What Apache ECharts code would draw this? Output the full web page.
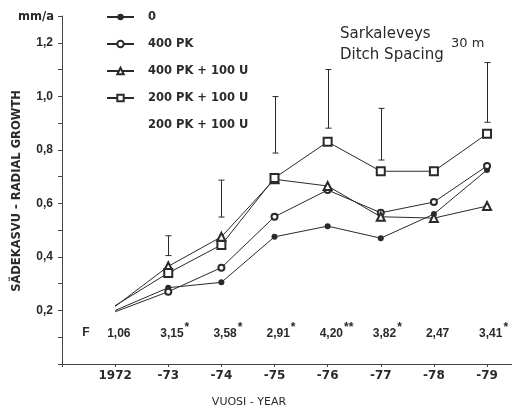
<!DOCTYPE html>
<html>
<head>
<meta charset="utf-8">
<script src="https://cdn.jsdelivr.net/npm/echarts@6/dist/echarts.min.js"></script>
<style>html,body{margin:0;padding:0;background:#fff;}#c{width:512px;height:411px;}</style>
</head>
<body>
<div id="c"></div>
<script>
// ---- data ----
const years = [1972, 1973, 1974, 1975, 1976, 1977, 1978, 1979];
const xTickLabels = ['1972', '-73', '-74', '-75', '-76', '-77', '-78', '-79'];
const seriesNames = ['0', '400 PK', '400 PK + 100 U', '200 PK + 100 U'];
const s0 = [0.20, 0.285, 0.305, 0.475, 0.515, 0.47, 0.56, 0.725];
const s400pk = [0.195, 0.27, 0.36, 0.55, 0.65, 0.565, 0.605, 0.74];
const s400pk100u = [0.215, 0.365, 0.475, 0.69, 0.665, 0.55, 0.545, 0.59];
const s200pk100u = [0.218, 0.34, 0.445, 0.695, 0.83, 0.72, 0.72, 0.86];
const errYears = [1973, 1974, 1975, 1976, 1977, 1979];
const errLow = [0.405, 0.549, 0.788, 0.881, 0.762, 0.903];
const errHigh = [0.479, 0.687, 0.999, 1.10, 0.955, 1.126];
const fValues = ['1,06', '3,15', '3,58', '2,91', '4,20', '3,82', '2,47', '3,41'];
const fStars = ['', '*', '*', '*', '**', '*', '', '*'];
const fRowLevel = 0.115;
const errLegendName = '200 PK + 100 U ';

const ink = '#2a2a2a';
const chart = echarts.init(document.getElementById('c'));

function lineData(vals) {
  return years.map((y, i) => i === 0 ? { value: [y, vals[i]], symbol: 'none' } : [y, vals[i]]);
}
function lineSeries(name, vals, symbol, size) {
  return {
    name: name, type: 'line', data: lineData(vals), symbol: symbol, symbolSize: size,
    lineStyle: { color: ink, width: 1 }, itemStyle: { color: ink, borderWidth: 1 },
    emphasis: { disabled: true }, animation: false, z: 3
  };
}

const measureCtx = document.createElement('canvas').getContext('2d');
const fFont = 'bold 12px "Liberation Sans"';
measureCtx.font = fFont;

const option = {
  backgroundColor: '#fff',
  animation: false,
  grid: { left: 62, right: 0, top: 16, bottom: 47 },
  title: [
    { text: 'Sarkaleveys\nDitch Spacing', left: 335, top: 19,
      textStyle: { fontFamily: 'DejaVu Sans', fontWeight: 'normal', fontSize: 15, color: ink, lineHeight: 21 } },
    { text: '30 m', left: 446, top: 32,
      textStyle: { fontFamily: 'DejaVu Sans', fontWeight: 'normal', fontSize: 13, color: ink } }
  ],
  legend: {
    orient: 'vertical', left: 101, top: 6,
    itemWidth: 27, itemHeight: 8, itemGap: 15,
    selectedMode: false,
    textStyle: { fontFamily: 'DejaVu Sans', fontWeight: 'bold', fontSize: 11.5, color: ink, lineHeight: 12, padding: [0, 0, 0, 9] },
    data: seriesNames.concat([{ name: errLegendName, icon: 'none' }])
  },
  graphic: [
    { type: 'text', x: 17, y: 191, rotation: Math.PI / 2,
      style: { text: 'SÄDEKASVU - RADIAL GROWTH', font: 'bold 11.5px "DejaVu Sans"', fill: ink, align: 'center', verticalAlign: 'middle' } },
    { type: 'text', x: 86, y: 333,
      style: { text: 'F', font: fFont, fill: ink, align: 'center', verticalAlign: 'middle' } },
    { type: 'text', x: 54, y: 17,
      style: { text: 'mm/a', font: 'bold 11.5px "DejaVu Sans"', fill: ink, align: 'right', verticalAlign: 'middle' } },
    { type: 'text', x: 249, y: 402,
      style: { text: 'VUOSI - YEAR', font: '11px "DejaVu Sans"', fill: ink, align: 'center', verticalAlign: 'middle' } }
  ],
  xAxis: {
    type: 'value', min: 1971, max: 1979.47, interval: 1,
    axisLine: { lineStyle: { color: '#444', width: 1 } },
    axisTick: { show: true, length: 3, lineStyle: { color: '#444' } },
    splitLine: { show: false },
    axisLabel: {
      margin: 6, fontFamily: 'DejaVu Sans', fontWeight: 'bold', fontSize: 12, color: ink,
      showMaxLabel: false,
      formatter: v => { const i = years.indexOf(v); return i < 0 ? '' : xTickLabels[i]; }
    }
  },
  yAxis: {
    type: 'value', min: 0, max: 1.3, interval: 0.2,
    axisLine: { show: true, lineStyle: { color: '#444', width: 1 } },
    axisTick: { show: true, length: 4, lineStyle: { color: '#444' } },
    minorTick: { show: true, splitNumber: 2, length: 4, lineStyle: { color: '#444' } },
    splitLine: { show: false },
    axisLabel: {
      margin: 9, fontFamily: 'Liberation Sans', fontWeight: 'bold', fontSize: 12, color: ink,
      showMaxLabel: false,
      formatter: v => (v === 0 || v > 1.25) ? '' : v.toFixed(1).replace('.', ',')
    }
  },
  series: [
    lineSeries(seriesNames[0], s0, 'circle', 6),
    lineSeries(seriesNames[1], s400pk, 'emptyCircle', 6),
    lineSeries(seriesNames[2], s400pk100u, 'emptyTriangle', 8),
    lineSeries(seriesNames[3], s200pk100u, 'emptyRect', 8),
    {
      name: errLegendName, type: 'custom', animation: false, z: 2,
      itemStyle: { color: ink },
      data: errYears.map((y, i) => [y, errLow[i], errHigh[i]]),
      renderItem: function (params, api) {
        const lo = api.coord([api.value(0), api.value(1)]);
        const hi = api.coord([api.value(0), api.value(2)]);
        const x = Math.round(lo[0]) + 0.5;
        const cap = 3;
        const st = { stroke: ink, lineWidth: 1 };
        return { type: 'group', children: [
          { type: 'line', shape: { x1: x, y1: lo[1], x2: x, y2: hi[1] }, style: st },
          { type: 'line', shape: { x1: x - cap, y1: lo[1], x2: x + cap, y2: lo[1] }, style: st },
          { type: 'line', shape: { x1: x - cap, y1: hi[1], x2: x + cap, y2: hi[1] }, style: st }
        ] };
      }
    },
    {
      name: 'F', type: 'custom', animation: false, silent: true, z: 2,
      data: years.map((y, i) => [y, fRowLevel, i]),
      renderItem: function (params, api) {
        const p = api.coord([api.value(0), api.value(1)]);
        const i = api.value(2);
        const w = measureCtx.measureText(fValues[i]).width;
        const x0 = p[0] - 8;
        const children = [
          { type: 'text', x: x0, y: p[1], style: { text: fValues[i], font: fFont, fill: ink, align: 'left', verticalAlign: 'middle' } }
        ];
        if (fStars[i]) {
          children.push({ type: 'text', x: x0 + w + 1, y: p[1] - 6,
            style: { text: fStars[i], font: fFont, fill: ink, align: 'left', verticalAlign: 'middle' } });
        }
        return { type: 'group', children: children };
      }
    }
  ]
};
chart.setOption(option);
</script>
</body>
</html>
